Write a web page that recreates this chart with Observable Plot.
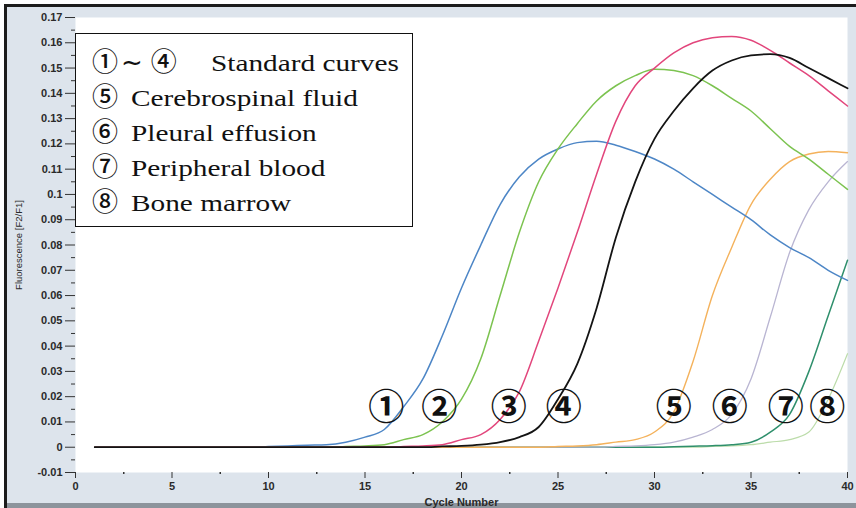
<!DOCTYPE html>
<html>
<head>
<meta charset="utf-8">
<script src="https://cdn.jsdelivr.net/npm/d3@7"></script>
<script src="https://cdn.jsdelivr.net/npm/@observablehq/plot@0.6"></script>
<style>
  html, body { margin: 0; padding: 0; background: #fff; }
  #wrap { position: relative; width: 856px; height: 508px; }
  #wrap svg { display: block; background: #dde4ec;
    box-shadow: inset 4px 4px 0 #fff, inset 7px 7px 0 #1c1c1c, inset 0 -5px 0 #8d949c; }
  #legend { position: absolute; left: 75px; top: 33px; width: 336px; height: 192px;
    background: #fff; border: 1.5px solid #111; font-family: "Liberation Serif", serif;
    font-size: 24px; color: #111; }
  #legend .line { position: absolute; left: 16px; height: 30px; line-height: 30px; white-space: nowrap; }
  #legend .c { font-family: "Noto Sans CJK JP", sans-serif; font-size: 26px; font-weight: 500; line-height: 30px; }
  #legend .t { display: inline-block; transform: scaleX(1.22); transform-origin: left center; }
</style>
</head>
<body>
<div id="wrap"></div>
<script>
// ---- data ----
const cycles = [1,2,3,4,5,6,7,8,9,10,11,12,13,14,15,16,17,18,19,20,21,22,23,24,25,26,27,28,29,30,31,32,33,34,35,36,37,38,39,40];

const curve1 = [0,0,0,0,0,0,0,0,0,0.0003,0.0005,0.0008,0.001,0.002,0.004,0.007,0.016,0.027,0.044,0.063,0.080,0.096,0.107,0.114,0.118,0.1205,0.121,0.1195,0.117,0.114,0.110,0.105,0.100,0.095,0.090,0.084,0.079,0.075,0.070,0.066];
const curve2 = [0,0,0,0,0,0,0,0,0,0,0,0,0,0.0003,0.0005,0.001,0.003,0.005,0.010,0.019,0.035,0.060,0.085,0.105,0.118,0.128,0.137,0.143,0.147,0.1495,0.149,0.147,0.143,0.138,0.133,0.126,0.119,0.114,0.108,0.102];
const curve3 = [0,0,0,0,0,0,0,0,0,0,0,0,0,0,0,0,0.0003,0.0005,0.001,0.003,0.005,0.011,0.022,0.042,0.063,0.085,0.108,0.129,0.143,0.150,0.156,0.160,0.162,0.1625,0.161,0.157,0.152,0.147,0.141,0.135];
const curve4 = [0,0,0,0,0,0,0,0,0,0,0,0,0,0,0,0,0,0,0.0003,0.0005,0.001,0.002,0.004,0.008,0.019,0.033,0.055,0.083,0.105,0.122,0.133,0.142,0.149,0.153,0.155,0.1555,0.154,0.150,0.146,0.142];
const curve5 = [0,0,0,0,0,0,0,0,0,0,0,0,0,0,0,0,0,0,0,0,0,0,0,0,0.0003,0.0005,0.001,0.002,0.003,0.006,0.014,0.034,0.060,0.079,0.096,0.106,0.113,0.116,0.117,0.1165];
const curve6 = [0,0,0,0,0,0,0,0,0,0,0,0,0,0,0,0,0,0,0,0,0,0,0,0,0,0,0,0.0003,0.0005,0.001,0.002,0.004,0.007,0.013,0.027,0.0515,0.077,0.094,0.105,0.113];
const curve7 = [0,0,0,0,0,0,0,0,0,0,0,0,0,0,0,0,0,0,0,0,0,0,0,0,0,0,0,0,0,0,0.0002,0.0004,0.0006,0.001,0.002,0.006,0.013,0.030,0.052,0.074];
const curve8 = [0,0,0,0,0,0,0,0,0,0,0,0,0,0,0,0,0,0,0,0,0,0,0,0,0,0,0,0,0,0,0,0,0.0003,0.0005,0.001,0.002,0.003,0.006,0.019,0.037];

const seriesNames = ["①","②","③","④","⑤","⑥","⑦","⑧"];
const seriesValues = [curve1, curve2, curve3, curve4, curve5, curve6, curve7, curve8];
const seriesColors = ["#4d86c6","#7cc350","#e2467c","#141414","#f4b25c","#b9b5d2","#2f8f6c","#bcdcaa"];
const seriesWidths = [1.5,1.5,1.5,1.8,1.4,1.3,1.5,1.2];
const drawOrder = [7,6,5,4,0,1,2,3];

// circled labels placed next to each curve (cycle, fluorescence)
const labelTexts = ["①","②","③","④","⑤","⑥","⑦","⑧"];
const labelCycles = [16.1, 18.85, 22.45, 25.3, 31.0, 33.9, 36.8, 38.95];
const labelValues = [0.0155, 0.0155, 0.0155, 0.0155, 0.0155, 0.0155, 0.0155, 0.0155];

const yTicks = [-0.01,0,0.01,0.02,0.03,0.04,0.05,0.06,0.07,0.08,0.09,0.1,0.11,0.12,0.13,0.14,0.15,0.16,0.17];
const yMinorTicks = [-0.005,0.005,0.015,0.025,0.035,0.045,0.055,0.065,0.075,0.085,0.095,0.105,0.115,0.125,0.135,0.145,0.155,0.165];
const xTicks = [0,5,10,15,20,25,30,35,40];
const xMinorTicks = [2.5,7.5,12.5,17.5,22.5,27.5,32.5,37.5];

const legendLines = [
  ["①～ ④", "Standard curves"],
  ["⑤", "Cerebrospinal fluid"],
  ["⑥", "Pleural effusion"],
  ["⑦", "Peripheral blood"],
  ["⑧", "Bone marrow"]
];

// ---- build table ----
const rows = [];
for (const k of drawOrder) {
  cycles.forEach((c, i) => rows.push({cycle: c, value: seriesValues[k][i], series: seriesNames[k], order: k}));
}
const labels = labelTexts.map((t, i) => ({text: t, cycle: labelCycles[i], value: labelValues[i]}));

const axisFont = {fontFamily: "Liberation Sans, Arial, sans-serif", fontSize: 11, fill: "#2a2a2a"};

const chart = Plot.plot({
  width: 856,
  height: 508,
  marginLeft: 75,
  marginRight: 9,
  marginTop: 17,
  marginBottom: 36,
  style: {background: "#dde4ec", color: "#333", fontFamily: "Liberation Sans, Arial, sans-serif", fontSize: "11px", overflow: "visible"},
  x: {domain: [0, 40]},
  y: {domain: [-0.01, 0.17]},
  color: {domain: seriesNames, range: seriesColors},
  marks: [
    Plot.frame({fill: "#fff", stroke: "none"}),
    Plot.axisY({ticks: yTicks, tickSize: 10, tickPadding: 3, tickFormat: d => String(+d.toFixed(2)),
      label: null, stroke: "#333", fontWeight: "bold", ...axisFont}),
    Plot.axisY({ticks: yTicks, tickSize: 0, tickFormat: () => "", label: "Fluorescence [F2/F1]",
      labelAnchor: "center", labelArrow: "none", labelOffset: 60, fontSize: 9.5, fill: "#2a2a2a"}),
    Plot.axisY({ticks: yMinorTicks, tickSize: 4, tickFormat: () => "", label: null, stroke: "#333"}),
    Plot.axisX({ticks: xTicks, tickSize: 6, tickPadding: 4, tickFormat: d => String(d),
      label: "Cycle Number", labelAnchor: "center", labelArrow: "none", labelOffset: 33,
      stroke: "#333", fontWeight: "bold", ...axisFont}),
    Plot.axisX({ticks: xMinorTicks, tickSize: 2, tickFormat: () => "", label: null, stroke: "#333", strokeWidth: 1.5}),
    ...drawOrder.map(k => Plot.line(rows.filter(r => r.order === k), {
      x: "cycle", y: "value", stroke: "series", strokeWidth: seriesWidths[k], curve: "monotone-x"
    })),
    Plot.text(labels, {x: "cycle", y: "value", text: "text", fontSize: 36, fontWeight: "bold",
      fontFamily: "Noto Sans CJK JP, DejaVu Sans, sans-serif", fill: "#111"})
  ]
});

document.getElementById("wrap").appendChild(chart);

// legend box (overlaid inside the plot area, as in the reference)
const legend = document.createElement("div");
legend.id = "legend";
const lineTops = [11, 46, 81, 116, 151];
legendLines.forEach((l, i) => {
  const d = document.createElement("div");
  d.className = "line";
  d.style.top = lineTops[i] + "px";
  if (i === 0) {
    d.innerHTML = `<span class="c">①</span><span style="font-family:'DejaVu Sans',sans-serif;font-size:26px;margin-left:3px">~</span><span class="c" style="margin-left:8px">④</span><span class="t" style="margin-left:34px">${l[1]}</span>`;
  } else {
    d.innerHTML = `<span class="c">${l[0]}</span><span class="t" style="margin-left:13px">${l[1]}</span>`;
  }
  legend.appendChild(d);
});
document.getElementById("wrap").appendChild(legend);
</script>
</body>
</html>
